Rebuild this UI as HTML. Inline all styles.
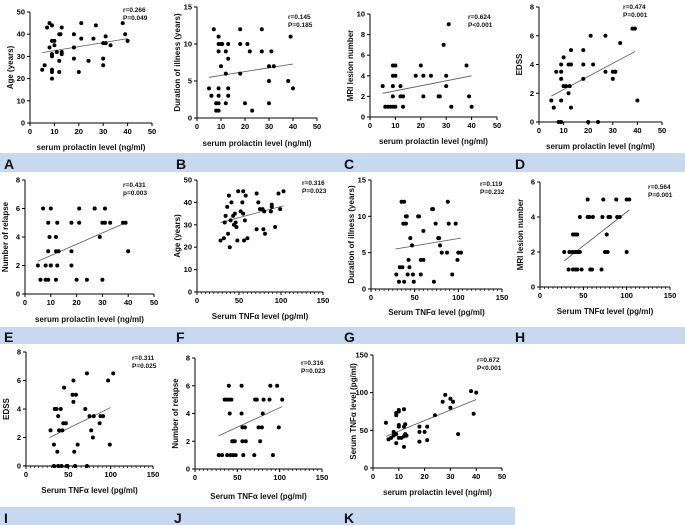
<!DOCTYPE html>
<html><head><meta charset="utf-8"><style>
html,body{margin:0;padding:0;background:#fff}
svg{display:block;font-family:"Liberation Sans",Arial,sans-serif}
</style></head><body>
<svg id="fig" width="685" height="525" viewBox="0 0 685 525"></svg>
<script>
// ---- data ----
const A_x=[5,6,7,8,8,9,9,9,9,9,9,9,10,10,11,12,12,12,12.5,13,13,13,18,18,18,20,21,21,24,26,27,30,30,30,31,31,33,38,39,40];
const A_y=[24,26,43,34,45,44,37,31,30,24,23,20,37,35,32,40,28,23,40,43,31,32,40,34,29,23,45,38,28,38,44,36,29,26,36,39,35,45,40,37];
const B_x=[5,6,7,8,8,9,9,9,9,9,9,9,10,10,10.5,12,12,12,13,13,13,13,18,18,18,20,21,22,23,27,27,30,30,30,31,32,38,39,40];
const B_y=[4,3,12,2,1,1,11,10,9,4,3,2,7,10,10,9,2,6,10,8,4,3,12,10,6,2,10,9,1,12,9,7,2,5,9,7,5,11,4];
const C_x=[5,6,7,8,9,9,9,9,9,10,12,12,13,13,18,20,21,21,24,27,27.5,29,30,30,31,32,38,39,40,10,10];
const C_y=[3,1,1,1,5,4,3,2,1,1,3,2,2,1,4,5,4,2,4,2,2,7,4,3,9,1,5,2,1,5,4];
const D_x=[5,6,7,8,9,9,9,9,9,10,10,11,12,12,12.5,13,13,13,18,18,18,20,21,22,24,27,27,30,30,31,31,33,38,39,40];
const D_y=[1.5,1,3.5,0,0,4,3.5,3,1.5,4.5,2.5,2.5,4,2,2.5,4,5,1,5,4,3,0,6,4,0,6,3.5,3.5,3,3.5,3.5,5.5,6.5,6.5,1.5];
const E_x=[5,6,7,8,8,9,9,9,9.5,10,10,10,12,12,12,12.5,12.5,13,18,18,18,20,21,21,24,27,27,29,30,30,31,31,33,38,39,40];
const E_y=[2,1,6,2,1,1,5,3,4,2,2,6,4,1,3,5,2,3,5,3,2,1,6,5,1,6,6,4,1,5,6,5,5,5,5,3];
const F_x=[28,32,33,34,36,37,38,39,40,41,43,44,45,46,47,48,49,52,54,55,55,56,57,58,60,71,71,73,75,78,79,80,81,88,89,89,93,97,99,103];
const F_y=[23,24,31,34,38,26,43,20,32,40,34,30,35,31,29,23,45,36,40,45,35,23,32,43,24,44,28,40,37,37,28,36,26,36,38,39,29,44,37,45];
const G_x=[29,32,33,35,36,37,38,38,40,40,41,42,43,44,45,47,48,49,54,55,57,57,60,60,70,71,72,74,77,78,79,81,87,88,89,97,99,100,93,103];
const G_y=[2,1,3,12,3,9,12,1,10,9,10,2,4,3,7,6,2,1,10,10,4,2,4,8,11,11,1,9,7,7,6,5,5,12,9,9,4,5,2,5];
const H_x=[28,33,34,37,38,38,39,40,41,41,42,43,43,44,46,46,48,55,55,57,58,60,61,71,72,73,75,77,78,79,81,88,89,92,100,100,103];
const H_y=[2,1,2,2,1,3,3,2,1,3,2,3,1,2,4,2,1,4,5,4,1,1,4,1,4,5,2,3,2,4,4,5,4,4,2,5,5];
const I_x=[29,33,33,34,36,37,38,38,39,41,42,43,44,45,47,48,49,55,56,56,57,58,59,61,70,72,72,75,77,79,80,87,88,91,97,99,103];
const I_y=[2.5,1.5,0,4,4,1,3.5,0,2.5,4,0,2.5,3,5.5,3,0,0,5,4.5,6,1,0,5,1.5,4,6.5,0,3.5,2.5,2,3.5,3,3.5,3.5,6,1.5,6.5];
const J_x=[28,32,35,37,38,40,40,41,42,43,44,45,46,47,48,55,55,56,56,57,59,60,70,71,73,75,77,79,80,81,88,89,92,97,99,103];
const J_y=[1,1,5,5,1,6,5,4,1,5,2,1,2,2,1,6,4,3,2,1,3,2,1,5,5,3,2,3,4,5,5,6,1,6,3,5];
const K_x=[5,6,7,8,8,9,9,9,9,10,10,10,10,10,11,12,12,12,12,12.5,12.5,13,18,18,18,20,21,21,24,27,28,30,30,31,31,33,38,39,40];
const K_y=[60,38,40,43,48,70,73,45,33,75,77,57,55,40,40,78,42,28,55,58,45,43,55,48,35,48,55,37,70,88,97,80,92,88,88,45,102,72,100];
// regression line endpoints [x1,x2],[y1,y2]
const fitX={A:[5,40],B:[5,40],C:[5,40],D:[5,39],E:[5,39],F:[28,103],G:[28,103],H:[28,103],I:[28,100],J:[28,103],K:[5,40]};
const fitY={A:[31.7,38],B:[5.5,7.3],C:[2.3,4],D:[1.8,4.9],E:[2.3,5],F:[31,38.5],G:[5.5,7],H:[1.5,4.4],I:[2,4.1],J:[2.4,4.5],K:[42,91]};
const xTicksPro=[0,10,20,30,40,50];
const xTicksTnf=[0,50,100,150];
const stats={A:["r=0.266","P=0.049"],B:["r=0.145","P=0.185"],C:["r=0.624","P<0.001"],D:["r=0.474","P=0.001"],E:["r=0.431","p=0.003"],F:["r=0.316","P=0.023"],G:["r=0.119","P=0.232"],H:["r=0.564","P=0.001"],I:["r=0.311","P=0.025"],J:["r=0.316","P=0.023"],K:["r=0.672","P<0.001"]};

const NS="http://www.w3.org/2000/svg";
const svg=document.getElementById('fig');
function el(tag,attrs,parent){const e=document.createElementNS(NS,tag);for(const k in attrs)e.setAttribute(k,attrs[k]);(parent||svg).appendChild(e);return e;}

// blue bands & letters
const bands=[[0,153,685,19],[0,327,685,17],[0,507,515,18]];
bands.forEach(b=>{const r=el('rect',{x:b[0],y:b[1],width:b[2],height:b[3],fill:'#c6d9f0'});

});
const letters=[['A',4,169],['B',176,169],['C',344,169],['D',515,169],['E',4,342],['F',176,342],['G',344,342],['H',515,342],['I',4,523],['J',174,523],['K',344,523]];
letters.forEach(l=>{const t=el('text',{x:l[1],y:l[2],'font-size':14,'font-weight':'bold',fill:'#111'});t.textContent=l[0];

});

// panel layouts (pixel geometry)
const P=[
 {id:'A',xs:A_x,ys:A_y,x0:30,x1:152,xmax:50,y0:123,y1:12,ymax:50,yt:[0,10,20,30,40,50],tnf:false,yl:'Age (years)',xly:150,st:[123,9]},
 {id:'B',xs:B_x,ys:B_y,x0:197,x1:317,xmax:50,y0:118,y1:7,ymax:15,yt:[0,5,10,15],tnf:false,yl:'Duration of illness (years)',xly:146,st:[288,16]},
 {id:'C',xs:C_x,ys:C_y,x0:370,x1:497,xmax:50,y0:117,y1:14,ymax:10,yt:[0,2,4,6,8,10],tnf:false,yl:'MRI lesion number',xly:144,st:[468,16]},
 {id:'D',xs:D_x,ys:D_y,x0:539,x1:662,xmax:50,y0:122,y1:7,ymax:8,yt:[0,2,4,6,8],tnf:false,yl:'EDSS',xly:149,st:[623,6]},
 {id:'E',xs:E_x,ys:E_y,x0:25,x1:154,xmax:50,y0:294,y1:180,ymax:8,yt:[0,2,4,6,8],tnf:false,yl:'Number of relapse',xly:322,st:[123,184]},
 {id:'F',xs:F_x,ys:F_y,x0:197,x1:323,xmax:150,y0:292,y1:180,ymax:50,yt:[0,10,20,30,40,50],tnf:true,yl:'Age (years)',xly:319,st:[302,182]},
 {id:'G',xs:G_x,ys:G_y,x0:371,x1:502,xmax:150,y0:289,y1:180,ymax:15,yt:[0,5,10,15],tnf:true,yl:'Duration of illness (years)',xly:315,st:[480,183]},
 {id:'H',xs:H_x,ys:H_y,x0:540,x1:670,xmax:150,y0:287,y1:182,ymax:6,yt:[0,2,4,6],tnf:true,yl:'MRI lesion number',xly:314,st:[648,186]},
 {id:'I',xs:I_x,ys:I_y,x0:26,x1:153,xmax:150,y0:466,y1:352,ymax:8,yt:[0,2,4,6,8],tnf:true,yl:'EDSS',xly:493,st:[132,357]},
 {id:'J',xs:J_x,ys:J_y,x0:195,x1:322,xmax:150,y0:469,y1:358,ymax:8,yt:[0,2,4,6,8],tnf:true,yl:'Number of relapse',xly:499,st:[301,362]},
 {id:'K',xs:K_x,ys:K_y,x0:373,x1:502,xmax:50,y0:468,y1:355,ymax:150,yt:[0,50,100,150],tnf:false,yl:'Serum TNF\u03b1 level (pg/ml)',xly:495,st:[477,359]}
];

P.forEach(p=>{
 const g=el('g',{});
 
 
 const sx=v=>p.x0+(v/p.xmax)*(p.x1-p.x0);
 const sy=v=>p.y0-(v/p.ymax)*(p.y0-p.y1);
 const ax=el('path',{d:`M${p.x0},${p.y1}V${p.y0}H${p.x1}`,stroke:'#000','stroke-width':1,fill:'none'},g);
 
 
 // y ticks
 p.yt.forEach(v=>{el('line',{x1:p.x0-3,x2:p.x0,y1:sy(v),y2:sy(v),stroke:'#000'},g);
  const t=el('text',{x:p.x0-5,y:sy(v)+2.5,'font-size':7.5,'text-anchor':'end',fill:'#000','font-weight':'bold'},g);t.textContent=v;
  
  });
 // x ticks
 const xt=p.tnf?xTicksTnf:xTicksPro;
 if(p.tnf){for(let v=0;v<=150;v+=5){el('line',{x1:sx(v),x2:sx(v),y1:p.y0,y2:p.y0+(v%50===0?3:2),stroke:'#000','stroke-width':0.7},g);}}
 xt.forEach(v=>{el('line',{x1:sx(v),x2:sx(v),y1:p.y0,y2:p.y0+3,stroke:'#000'},g);
  const t=el('text',{x:sx(v),y:p.y0+11,'font-size':7.5,'text-anchor':'middle',fill:'#000','font-weight':'bold'},g);t.textContent=v;
  
  });
 // labels
 const xl=el('text',{x:(p.x0+p.x1)/2,y:p.xly,'font-size':8,'text-anchor':'middle','font-weight':'bold',fill:'#111'},g);
 xl.textContent=p.tnf?'Serum TNF\u03b1 level (pg/ml)':'serum prolactin level (ng/ml)';
 
 
 const yc=(p.y0+p.y1)/2, yx=p.x0-17;
 const yl=el('text',{x:yx,y:yc,'font-size':8,'text-anchor':'middle','font-weight':'bold',fill:'#111',transform:`rotate(-90 ${yx} ${yc})`},g);
 yl.textContent=p.yl;
 
 
 // stats
 stats[p.id].forEach((s,i)=>{const t=el('text',{x:p.st[0],y:p.st[1]+i*8+3,'font-size':6.5,'font-weight':'bold',fill:'#111'},g);t.textContent=s;
  
  });
 // fit line
 const fx=fitX[p.id],fy=fitY[p.id];
 const ln=el('line',{x1:sx(fx[0]),y1:sy(fy[0]),x2:sx(fx[1]),y2:sy(fy[1]),stroke:'#555','stroke-width':0.8},g);
 
 
 // points
 p.xs.forEach((x,i)=>{const c=el('circle',{cx:sx(x),cy:sy(p.ys[i]),r:2,fill:'#000'},g);
  
  });
});
</script>
</body></html>
